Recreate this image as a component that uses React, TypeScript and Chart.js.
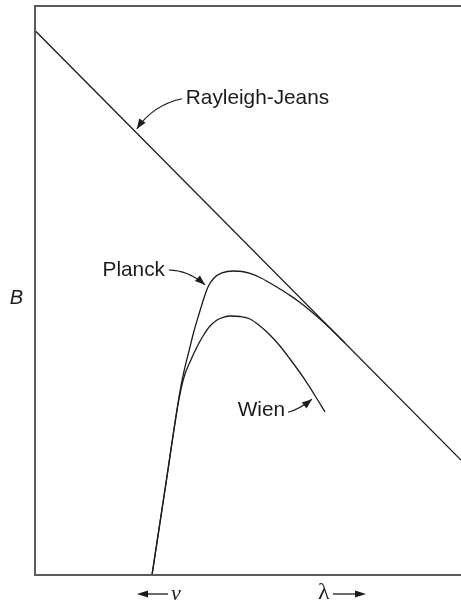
import React, { useEffect, useRef } from "react";
import { Chart, registerables } from "chart.js";

Chart.register(...registerables);

// Blackbody spectra on logarithmic axes (x ~ log λ, y ~ log B), arbitrary units 0–100.
const rjX = [0, 100];
const rjY = [95.7, 20.2];

const planckX = [
  27.46, 30.75, 33.33, 34.27, 35.21, 36.15, 37.32, 38.5, 39.67, 40.61, 42.02, 43.9, 46.48,
  48.59, 50.47, 52.82, 55.16, 57.51, 59.86, 62.21, 64.55, 66.9, 69.25, 72.77,
];
const planckY = [
  0, 16.17, 29.0, 33.22, 36.56, 39.37, 42.88, 45.87, 48.68, 50.62, 52.2, 53.08, 53.43,
  53.34, 52.99, 52.28, 51.32, 50.26, 49.14, 47.89, 46.5, 44.99, 43.36, 40.77,
];

const wienX = [
  27.46, 30.75, 33.33, 34.27, 35.21, 36.38, 37.79, 39.44, 41.08, 42.72, 44.37, 45.77,
  48.12, 50.47, 52.82, 55.16, 57.51, 59.86, 62.91, 65.49, 68.08,
];
const wienY = [
  0, 16.17, 29.0, 32.69, 35.33, 37.43, 39.72, 42.0, 43.76, 44.82, 45.34, 45.52,
  45.43, 44.99, 43.76, 42.18, 40.25, 37.96, 34.8, 31.81, 28.65,
];

const seriesNames = ["Rayleigh-Jeans", "Planck", "Wien"];
const yAxisLabel = "B";
const freqLabel = "ν";
const waveLabel = "λ";

const INK = "#1b1b1b";
const FRAME = "#5c5c5c";
const LABEL_FONT = '20.8px "Liberation Sans", Arial, sans-serif';

type Pt = [number, number];
type Callout = {
  text: string;
  align: "left" | "right";
  textAt: Pt;
  tail: Pt;
  ctrl: Pt;
  tip: Pt;
};

// Curved pointer labels, positioned in data units.
const callouts: Callout[] = [
  { text: seriesNames[0], align: "left", textAt: [35.4, 83.8], tail: [34.5, 83.7], ctrl: [27.7, 82.6], tip: [23.9, 78.4] },
  { text: seriesNames[1], align: "right", textAt: [30.5, 53.6], tail: [31.4, 53.6], ctrl: [35.9, 53.6], tip: [39.9, 51.0] },
  { text: seriesNames[2], align: "right", textAt: [58.7, 29.0], tail: [59.4, 28.6], ctrl: [62.2, 29.2], tip: [65.0, 30.9] },
];

const toPoints = (xs: number[], ys: number[]) => xs.map((x, i) => ({ x, y: ys[i] }));

function arrowHead(ctx: CanvasRenderingContext2D, tx: number, ty: number, fx: number, fy: number, len = 10, half = 3.6) {
  const dx = tx - fx;
  const dy = ty - fy;
  const d = Math.hypot(dx, dy) || 1;
  const ux = dx / d;
  const uy = dy / d;
  const bx = tx - ux * len;
  const by = ty - uy * len;
  ctx.beginPath();
  ctx.moveTo(tx, ty);
  ctx.lineTo(bx - uy * half, by + ux * half);
  ctx.lineTo(bx + uy * half, by - ux * half);
  ctx.closePath();
  ctx.fill();
}

const decorPlugin = {
  id: "decor",
  afterDraw(chart: any) {
    const { ctx, chartArea, scales } = chart;
    const { left, top, right, bottom } = chartArea;
    const px = (p: Pt): Pt => [scales.x.getPixelForValue(p[0]), scales.y.getPixelForValue(p[1])];

    ctx.save();
    // open frame: left, top and bottom edges
    ctx.strokeStyle = FRAME;
    ctx.lineWidth = 2;
    ctx.beginPath();
    ctx.moveTo(right + 2, top);
    ctx.lineTo(left, top);
    ctx.lineTo(left, bottom);
    ctx.lineTo(right + 2, bottom);
    ctx.stroke();

    // callouts
    ctx.fillStyle = INK;
    ctx.strokeStyle = INK;
    ctx.lineWidth = 1.2;
    ctx.font = LABEL_FONT;
    ctx.textBaseline = "middle";
    for (const c of callouts) {
      const t = px(c.textAt);
      ctx.textAlign = c.align;
      ctx.fillText(c.text, t[0], t[1]);
      const a = px(c.tail);
      const k = px(c.ctrl);
      const b = px(c.tip);
      ctx.beginPath();
      ctx.moveTo(a[0], a[1]);
      ctx.quadraticCurveTo(k[0], k[1], b[0], b[1]);
      ctx.stroke();
      arrowHead(ctx, b[0], b[1], k[0], k[1], 10, 3.8);
    }

    // vertical axis symbol
    ctx.font = 'italic 20px "Liberation Sans", Arial, sans-serif';
    ctx.textAlign = "center";
    ctx.textBaseline = "middle";
    ctx.fillText(yAxisLabel, left - 18.5, bottom - 277);

    // horizontal direction markers
    ctx.lineWidth = 1.3;
    const ay = bottom + 19;
    ctx.beginPath();
    ctx.moveTo(left + 133, ay);
    ctx.lineTo(left + 108, ay);
    ctx.stroke();
    arrowHead(ctx, left + 102, ay, left + 133, ay, 11, 3.6);
    ctx.font = 'italic 22px "Liberation Serif", "Times New Roman", serif';
    ctx.textAlign = "left";
    ctx.textBaseline = "alphabetic";
    ctx.fillText(freqLabel, left + 136, bottom + 25);

    ctx.font = '24px "Liberation Serif", "Times New Roman", serif';
    ctx.fillText(waveLabel, left + 283, bottom + 24);
    ctx.beginPath();
    ctx.moveTo(left + 298, ay);
    ctx.lineTo(left + 324, ay);
    ctx.stroke();
    arrowHead(ctx, left + 331, ay, left + 298, ay, 11, 3.6);
    ctx.restore();
  },
};

export default function App() {
  const canvasRef = useRef<HTMLCanvasElement | null>(null);

  useEffect(() => {
    const canvas = canvasRef.current;
    if (!canvas) return;
    const line = (label: string, xs: number[], ys: number[], width: number) => ({
      label,
      data: toPoints(xs, ys),
      borderColor: INK,
      borderWidth: width,
      pointRadius: 0,
      fill: false,
      cubicInterpolationMode: "monotone" as const,
    });
    const chart = new Chart(canvas, {
      type: "line",
      data: {
        datasets: [
          line(seriesNames[0], rjX, rjY, 1.3),
          line(seriesNames[1], planckX, planckY, 1.3),
          line(seriesNames[2], wienX, wienY, 1.3),
        ],
      },
      options: {
        responsive: false,
        maintainAspectRatio: false,
        animation: false,
        events: [],
        layout: { padding: { left: 35, top: 6, right: 0, bottom: 27 } },
        scales: {
          x: { type: "linear", min: 0, max: 100, display: false },
          y: { type: "linear", min: 0, max: 100, display: false },
        },
        plugins: {
          legend: { display: false },
          tooltip: { enabled: false },
        },
      },
      plugins: [decorPlugin],
    });
    return () => chart.destroy();
  }, []);

  return (
    <div style={{ position: "absolute", left: 0, top: 0, width: 461, height: 602, background: "#fff" }}>
      <canvas ref={canvasRef} width={461} height={602} style={{ display: "block", width: 461, height: 602 }} />
    </div>
  );
}
